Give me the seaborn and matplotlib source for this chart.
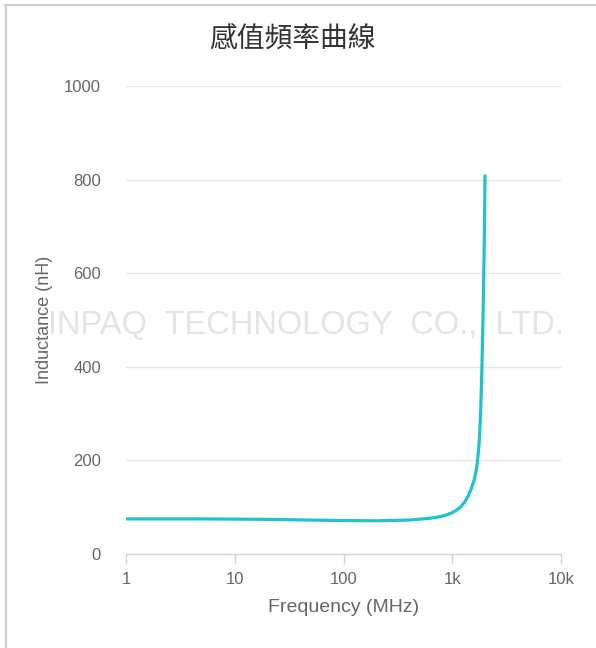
import matplotlib
matplotlib.use("Agg")
import matplotlib.pyplot as plt
from matplotlib.lines import Line2D
import seaborn as sns
import pandas as pd

# values
freq_mhz = [1, 2, 5, 10, 20, 50, 100, 200, 400, 600, 700, 800, 900, 1000, 1100, 1200,
            1300, 1400, 1500, 1600, 1650, 1700, 1750, 1780, 1810, 1840, 1870, 1900,
            1930, 1960, 1985, 2000]
inductance_nh = [75, 75, 75, 74.5, 74, 72.5, 71.5, 71, 72.5, 76, 78, 80.5, 84, 88.5, 94, 101,
                 111, 124, 140, 160, 175, 195, 225, 250, 285, 330, 390, 460,
                 540, 630, 730, 808]
x_ticks = [1, 10, 100, 1000, 10000]
x_tick_labels = ["1", "10", "100", "1k", "10k"]
y_ticks = [0, 200, 400, 600, 800, 1000]

df = pd.DataFrame({"Frequency (MHz)": freq_mhz, "Inductance (nH)": inductance_nh})

sns.set_theme(style="white")
plt.rcParams['font.family'] = ['Liberation Sans', 'Noto Sans CJK TC', 'DejaVu Sans']

fig = plt.figure(figsize=(5.96, 6.48), dpi=100)
ax = fig.add_axes([126 / 596, 1 - 554 / 648, 435 / 596, 468 / 648])

sns.lineplot(data=df, x="Frequency (MHz)", y="Inductance (nH)", ax=ax,
             color="#1fc3cb", linewidth=2.3, zorder=3)

ax.set_xscale("log")
ax.set_xlim(1, 10000)
ax.set_ylim(0, 1000)
ax.set_xticks(x_ticks)
ax.set_xticklabels(x_tick_labels)
ax.minorticks_off()
ax.set_yticks(y_ticks)

ax.grid(axis="y", color="#e6e6e6", linewidth=1)
ax.grid(axis="x", visible=False)
ax.set_axisbelow(True)

for side in ["top", "right", "left"]:
    ax.spines[side].set_visible(False)
ax.spines["bottom"].set_color("#ccd6eb")
ax.spines["bottom"].set_linewidth(1)

ax.tick_params(axis="x", length=7, width=1, color="#ccd6eb", direction="out",
               pad=6, labelsize=12, labelcolor="#666666", bottom=True)
ax.tick_params(axis="y", length=0, pad=18, labelsize=12, labelcolor="#666666")

ax.set_xlabel("Frequency (MHz)", fontsize=14, color="#666666")
ax.set_ylabel("Inductance (nH)", fontsize=13, color="#666666")
ax.xaxis.set_label_coords(0.499, -0.097)
ax.yaxis.set_label_coords(-0.168, 0.5)

fig.text(0.49, 1 - 39 / 648, "感值頻率曲線", ha="center", va="center",
         fontsize=20, color="#333333", family=["Noto Sans CJK TC", "DejaVu Sans"])

# watermark
fig.text(306 / 596, 1 - 326 / 648, "INPAQ  TECHNOLOGY  CO.,  LTD.", ha="center",
         va="center", fontsize=23.5, color="#e4e4e4", zorder=1)

# frame lines at top and left
fig.add_artist(Line2D([5 / 596, 1], [1 - 5 / 648, 1 - 5 / 648],
                      transform=fig.transFigure, color="#cccccc", linewidth=1.5))
fig.add_artist(Line2D([6 / 596, 6 / 596], [0, 1 - 5 / 648],
                      transform=fig.transFigure, color="#cccccc", linewidth=1.5))

fig.savefig("out.png", dpi=100)
